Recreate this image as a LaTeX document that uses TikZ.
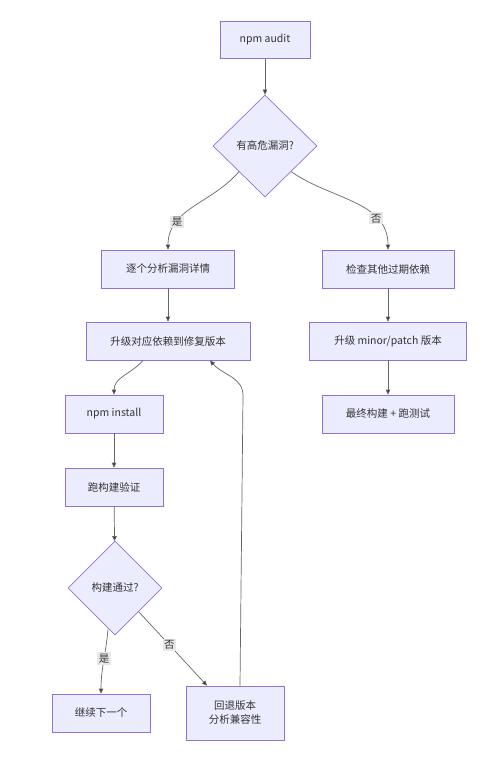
\documentclass[tikz,border=0pt]{standalone}
\usepackage{fontspec}
\setmainfont{Noto Sans CJK SC}
\usepackage{xcolor}
\usetikzlibrary{shapes.geometric,arrows.meta}
\definecolor{nodefill}{HTML}{ECECFF}
\definecolor{nodeline}{HTML}{9370DB}
\definecolor{edgeline}{HTML}{666666}
\definecolor{textcol}{HTML}{333333}
\definecolor{labelfill}{HTML}{E8E8E8}

\begin{document}
\begin{tikzpicture}[x=1pt, y=1pt,
    box/.style={draw=nodeline, fill=nodefill, rectangle, minimum height=38pt, align=center, text=textcol, font=\fontsize{10.5}{14}\selectfont, line width=0.7pt},
    decision/.style={draw=nodeline, fill=nodefill, diamond, inner sep=0pt, text=textcol, font=\fontsize{10.5}{14}\selectfont, line width=0.7pt},
    arrow/.style={-{Triangle[length=5pt, width=4.5pt, fill=textcol]}, draw=edgeline, line width=0.7pt},
    lbl/.style={fill=labelfill, inner sep=1.5pt, text=textcol, font=\fontsize{10.5}{12}\selectfont}
  ]
    \useasboundingbox (0,0) rectangle (487,-758);

    % Nodes
    \node[box, minimum width=90pt, minimum height=37pt] (audit) at (265,-40) {npm audit};
    \node[decision, minimum width=104pt, minimum height=102pt] (vuln) at (265,-146) {有高危漏洞?};

    % Left branch
    \node[box, minimum width=133pt] (analyze) at (168,-269) {逐个分析漏洞详情};
    \node[box, minimum width=164pt] (fix) at (168,-341) {升级对应依赖到修复版本};
    \node[box, minimum width=98pt] (install) at (114,-414) {npm install};
    \node[box, minimum width=98pt] (build) at (114,-487) {跑构建验证};
    \node[decision, minimum width=94pt, minimum height=94pt] (pass) at (115,-588) {构建通过?};
    \node[box, minimum width=98pt] (next) at (101,-713) {继续下一个};
    \node[box, minimum width=98pt, minimum height=54pt] (back) at (235,-713) {回退版本\\分析兼容性};

    % Right branch
    \node[box, minimum width=132pt] (outdated) at (388,-269) {检查其他过期依赖};
    \node[box, minimum width=157pt] (minor) at (388,-341) {升级 minor/patch 版本};
    \node[box, minimum width=132pt] (final) at (388,-414) {最终构建 + 跑测试};

    % Arrows
    \draw[arrow] (audit) -- (vuln);
    \draw[arrow] (vuln.south west) to[out=-130, in=90] node[lbl, pos=0.72] {是} (analyze.north);
    \draw[arrow] (vuln.south east) to[out=-35, in=90] node[lbl, pos=0.72] {否} (outdated.north);
    \draw[arrow] (analyze) -- (fix);
    \draw[arrow] ([xshift=-25pt]fix.south) to[out=-130, in=90] (install.north);
    \draw[arrow] (install) -- (build);
    \draw[arrow] (build) -- (pass);
    \draw[arrow] ([xshift=-7pt, yshift=6pt]pass.south) to[out=-95, in=90] node[lbl, pos=0.45] {是} (next.north);
    \draw[arrow] (pass.south east) -- node[lbl, pos=0.45] {否} ([xshift=-28pt]back.north);
    \draw[arrow] (outdated) -- (minor);
    \draw[arrow] (minor) -- (final);

    % Loop back to upgrade
    \draw[arrow] ([xshift=5pt]back.north) -- ++(3,290) to[out=90, in=-50] ([xshift=42pt]fix.south);
  \end{tikzpicture}
\end{document}
